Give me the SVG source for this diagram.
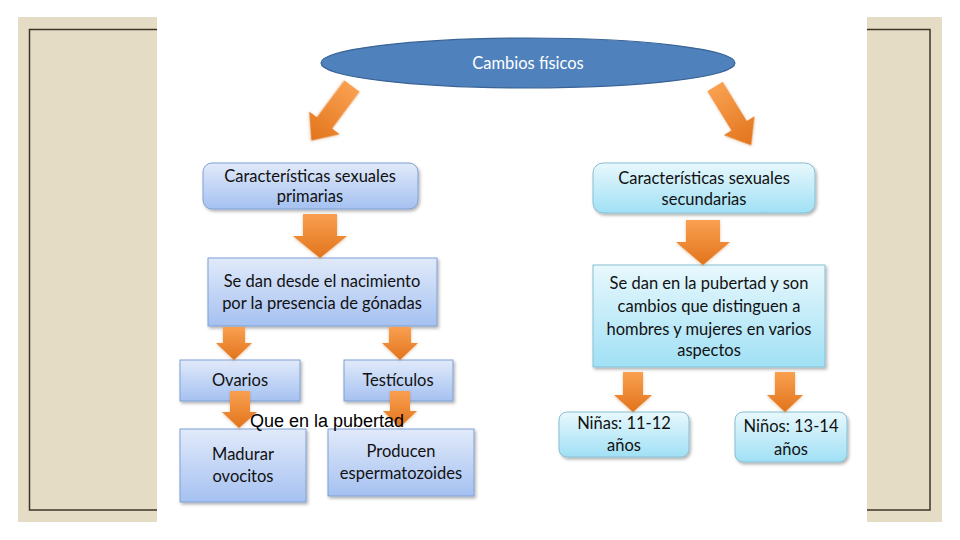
<svg xmlns="http://www.w3.org/2000/svg" width="960" height="540" viewBox="0 0 960 540">
<defs>
  <linearGradient id="gBlue" x1="0" y1="0" x2="0" y2="1">
    <stop offset="0" stop-color="#e1eafa"/>
    <stop offset="1" stop-color="#a5c1f1"/>
  </linearGradient>
  <linearGradient id="gCyan" x1="0" y1="0" x2="0" y2="1">
    <stop offset="0" stop-color="#e8f8fd"/>
    <stop offset="1" stop-color="#a0e0f5"/>
  </linearGradient>
  <linearGradient id="gOrange" x1="0" y1="0" x2="0" y2="1">
    <stop offset="0" stop-color="#f9a050"/>
    <stop offset="1" stop-color="#e2741c"/>
  </linearGradient>
  <filter id="sh" x="-10%" y="-10%" width="130%" height="140%">
    <feDropShadow dx="1.5" dy="2" stdDeviation="1.5" flood-color="#000" flood-opacity="0.3"/>
  </filter>
  <filter id="shA" x="-30%" y="-30%" width="160%" height="160%">
    <feDropShadow dx="0" dy="1" stdDeviation="1.5" flood-color="#b05a10" flood-opacity="0.35"/>
  </filter>
</defs>
<style>
  .blue { fill: url(#gBlue); stroke: #7f9fd3; stroke-width: 1; filter: url(#sh); }
  .cyan { fill: url(#gCyan); stroke: #86bfd2; stroke-width: 1; filter: url(#sh); }
  .arr { fill: url(#gOrange); filter: url(#shA); }
  .t { font-family: Lato, "Open Sans", "Liberation Sans", sans-serif; font-size: 16.5px; fill: #111; text-anchor: middle; }
  .frame { fill: none; stroke: #3d3528; stroke-width: 1.5; }
</style>

<rect width="960" height="540" fill="#ffffff"/>
<!-- side panels -->
<rect x="18" y="17" width="139" height="505" fill="#e4dcc5"/>
<rect x="867" y="17" width="75" height="505" fill="#e4dcc5"/>
<path class="frame" d="M157 29.5 H29.5 V510 H157"/>
<path class="frame" d="M867 29.5 H930 V510 H867"/>

<g id="root">
  <ellipse cx="528" cy="63" rx="207" ry="25" fill="#4f81bd" stroke="#3a6496" stroke-width="1.2"/>
  <text x="528" y="69" class="t" style="fill:#ffffff">Cambios físicos</text>
</g>

<g id="primarias">
  <rect class="blue" x="203" y="163" width="215" height="46" rx="9"/>
  <text class="t" x="310" y="182">Características sexuales</text>
  <text class="t" x="310" y="202">primarias</text>
</g>

<g id="nacimiento">
  <rect class="blue" x="208" y="258" width="229" height="68"/>
  <text class="t" x="322" y="287">Se dan desde el nacimiento</text>
  <text class="t" x="322" y="309">por la presencia de gónadas</text>
</g>

<g id="ovarios">
  <rect class="blue" x="180" y="360" width="120" height="41"/>
  <text class="t" x="240" y="386">Ovarios</text>
</g>

<g id="testiculos">
  <rect class="blue" x="344" y="360" width="109" height="41"/>
  <text class="t" x="398" y="386">Testículos</text>
</g>

<g id="madurar">
  <rect class="blue" x="180" y="429" width="126" height="73"/>
  <text class="t" x="243" y="460">Madurar</text>
  <text class="t" x="243" y="482">ovocitos</text>
</g>

<g id="producen">
  <rect class="blue" x="328" y="429" width="146" height="67"/>
  <text class="t" x="401" y="457">Producen</text>
  <text class="t" x="401" y="479">espermatozoides</text>
</g>

<g id="secundarias">
  <rect class="cyan" x="593" y="163" width="222" height="50" rx="10"/>
  <text class="t" x="704" y="184">Características sexuales</text>
  <text class="t" x="704" y="205">secundarias</text>
</g>

<g id="pubertad">
  <rect class="cyan" x="593" y="265" width="232" height="102"/>
  <text class="t" x="709" y="289">Se dan en la pubertad y son</text>
  <text class="t" x="709" y="312">cambios que distinguen a</text>
  <text class="t" x="709" y="335">hombres y mujeres en varios</text>
  <text class="t" x="709" y="356">aspectos</text>
</g>

<g id="ninas">
  <rect class="cyan" x="559" y="412" width="130" height="45" rx="8"/>
  <text class="t" x="624" y="429">Niñas: 11-12</text>
  <text class="t" x="624" y="451">años</text>
</g>

<g id="ninos">
  <rect class="cyan" x="735" y="412" width="112" height="50" rx="8"/>
  <text class="t" x="791" y="432">Niños: 13-14</text>
  <text class="t" x="791" y="455">años</text>
</g>

<g id="connectors">
  <path class="arr" transform="translate(352,86) rotate(36.7)" d="M-9.5 0 H9.5 V46 H19 L0 68 L-19 46 H-9.5 Z"/>
  <path class="arr" transform="translate(715,86.5) rotate(-31.6)" d="M-9 0 H9 V46 H18 L0 69 L-18 46 H-9 Z"/>
  <path class="arr" d="M303 214 H337 V236 H347 L320 258 L293 236 H303 Z"/>
  <path class="arr" d="M686 220 H720 V242 H730 L703 265 L676 242 H686 Z"/>
  <path class="arr" d="M223 327 H245 V343 H252 L234 360 L216 343 H223 Z"/>
  <path class="arr" d="M389 327 H411 V343 H418 L400 360 L382 343 H389 Z"/>
  <path class="arr" d="M230 391 H250 V412 H257 L239 428 L222 412 H230 Z"/>
  <path class="arr" d="M390 391 H410 V411 H417 L400 427 L383 411 H390 Z"/>
  <path class="arr" d="M623 372 H643 V395 H652 L633 412 L614 395 H623 Z"/>
  <path class="arr" d="M775 372 H795 V395 H803 L785 412 L767 395 H775 Z"/>
</g>

<text x="250" y="427" style="font-family:'Liberation Sans',Arial,sans-serif;font-size:18px;fill:#000">Que en la pubertad</text>
</svg>
